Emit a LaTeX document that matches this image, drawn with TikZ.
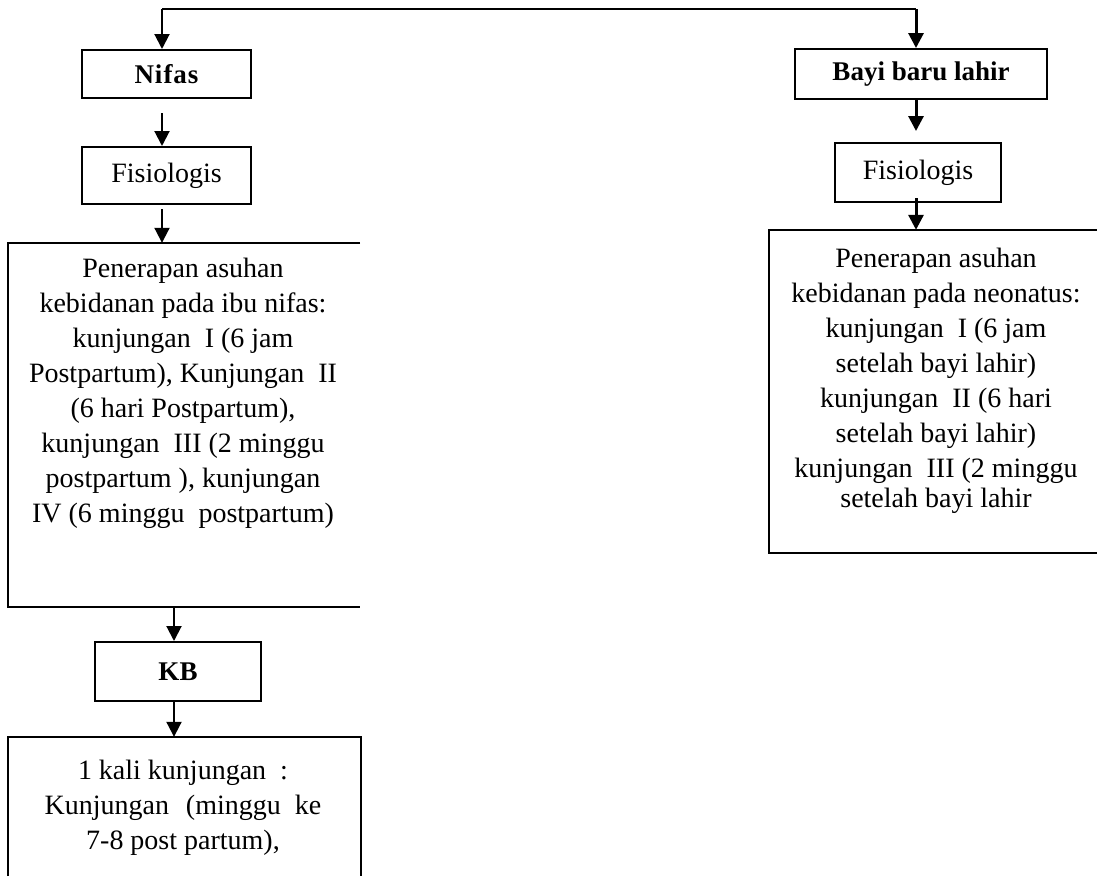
\documentclass[tikz,border=0pt]{standalone}
\usepackage{fontspec}
\setmainfont{Liberation Serif}
\usetikzlibrary{arrows.meta}
\begin{document}
\begin{tikzpicture}[x=1pt,y=-1pt,
  box/.style={draw, line width=2pt, rectangle, inner sep=0pt},
  openbox/.style={draw=none, rectangle, inner sep=0pt},
  side/.style={line width=2pt},
  txt/.style={font=\fontsize{28}{35}\selectfont, align=center, inner sep=0pt},
  btxt/.style={font=\fontsize{27}{33}\selectfont\bfseries, align=center, inner sep=0pt},
  arrowL/.style={line width=2pt, -{Triangle[width=15pt,length=15pt]}},
  arrowR/.style={line width=3pt, -{Triangle[width=15pt,length=15pt]}},
  topline/.style={line width=2pt}]
\useasboundingbox (0,0) rectangle (1097,876);
\fill[white] (0,0) rectangle (1097,876);

% guide coordinates
\coordinate (tl) at (162,9);
\coordinate (tr) at (916,9);
\coordinate (lx2) at (174,0);
\coordinate (edgeR) at (1097,0);
\coordinate (edgeB) at (0,876);

% left column
\node[box, minimum width=169pt, minimum height=48pt] (nifas) at (166.5,74) {};
\node[btxt] (nifasT) at (nifas.center) {N\kern1pt i\kern1pt f\kern1pt a\kern1pt s};
\node[box, minimum width=169pt, minimum height=57pt] (fisL) at (166.5,175.5) {};
\node[txt] (fisLT) at (fisL.center) {Fisiologis};
\node[openbox, minimum width=352pt, minimum height=364pt] (bigL) at (184,425) {};
\draw[side] (bigL.north east) -- (bigL.north west) -- (bigL.south west) -- (bigL.south east);
\node[txt, anchor=north] (bigLT) at (183,258) {Penerapan asuhan\\
kebidanan pada ibu nifas:\\
kunjungan\ \ I (6 jam\\
Postpartum), Kunjungan\ \ II\\
(6 hari Postpartum),\\
kunjungan\ \ III (2 minggu\\
postpartum ), kunjungan\\
IV (6 minggu\ \ postpartum)};
\node[box, minimum width=166pt, minimum height=59pt] (kb) at (178,671.5) {};
\node[btxt] (kbT) at (kb.center) {KB};
\node[openbox, minimum width=353pt, minimum height=162pt] (visit) at (184.5,818) {};
\draw[side] (visit.south west |- edgeB) -- (visit.north west) -- (visit.north east) -- (visit.south east |- edgeB);
\node[txt, anchor=north] (visitT) at (183,760) {1 kali kunjungan\ \ :\\
Kunjungan\hspace{0.6em}(minggu\hspace{0.5em}ke\\
7-8 post partum),};

% right column
\node[box, minimum width=252pt, minimum height=50pt] (bayi) at (921,74) {};
\node[btxt] (bayiT) at (bayi.center) {Bayi baru lahir};
\node[box, minimum width=166pt, minimum height=59pt] (fisR) at (918,172.5) {};
\node[txt] (fisRT) at (fisR.center) {Fisiologis};
\node[openbox, minimum width=334pt, minimum height=323pt] (bigR) at (936,391.5) {};
\draw[side] (bigR.north west -| edgeR) -- (bigR.north west) -- (bigR.south west) -- (bigR.south west -| edgeR);
\node[txt, anchor=north] (bigRT) at (936,248) {Penerapan asuhan\\
kebidanan pada neonatus:\\
kunjungan\ \ I (6 jam\\
setelah bayi lahir)\\
kunjungan\ \ II (6 hari\\
setelah bayi lahir)\\
kunjungan\ \ III (2 minggu\\[-5pt]
setelah bayi lahir};

% connectors
\draw[topline] (tl) -- (tr);
\draw[arrowL] (tl) -- (tl |- nifas.north);
\draw[arrowR] (tr) -- (tr |- bayi.north);
\draw[arrowL] ([yshift=-14pt]nifas.south -| tl) -- (fisL.north -| tl);
\draw[arrowL] ([yshift=-4pt]fisL.south -| tl) -- (bigL.north -| tl);
\draw[arrowL] (bigL.south -| lx2) -- (kb.north -| lx2);
\draw[arrowL] (kb.south -| lx2) -- (visit.north -| lx2);
\draw[arrowR] (bayi.south -| tr) -- ([yshift=11pt]fisR.north -| tr);
\draw[arrowR] ([yshift=5pt]fisR.south -| tr) -- (bigR.north -| tr);
\end{tikzpicture}
\end{document}
